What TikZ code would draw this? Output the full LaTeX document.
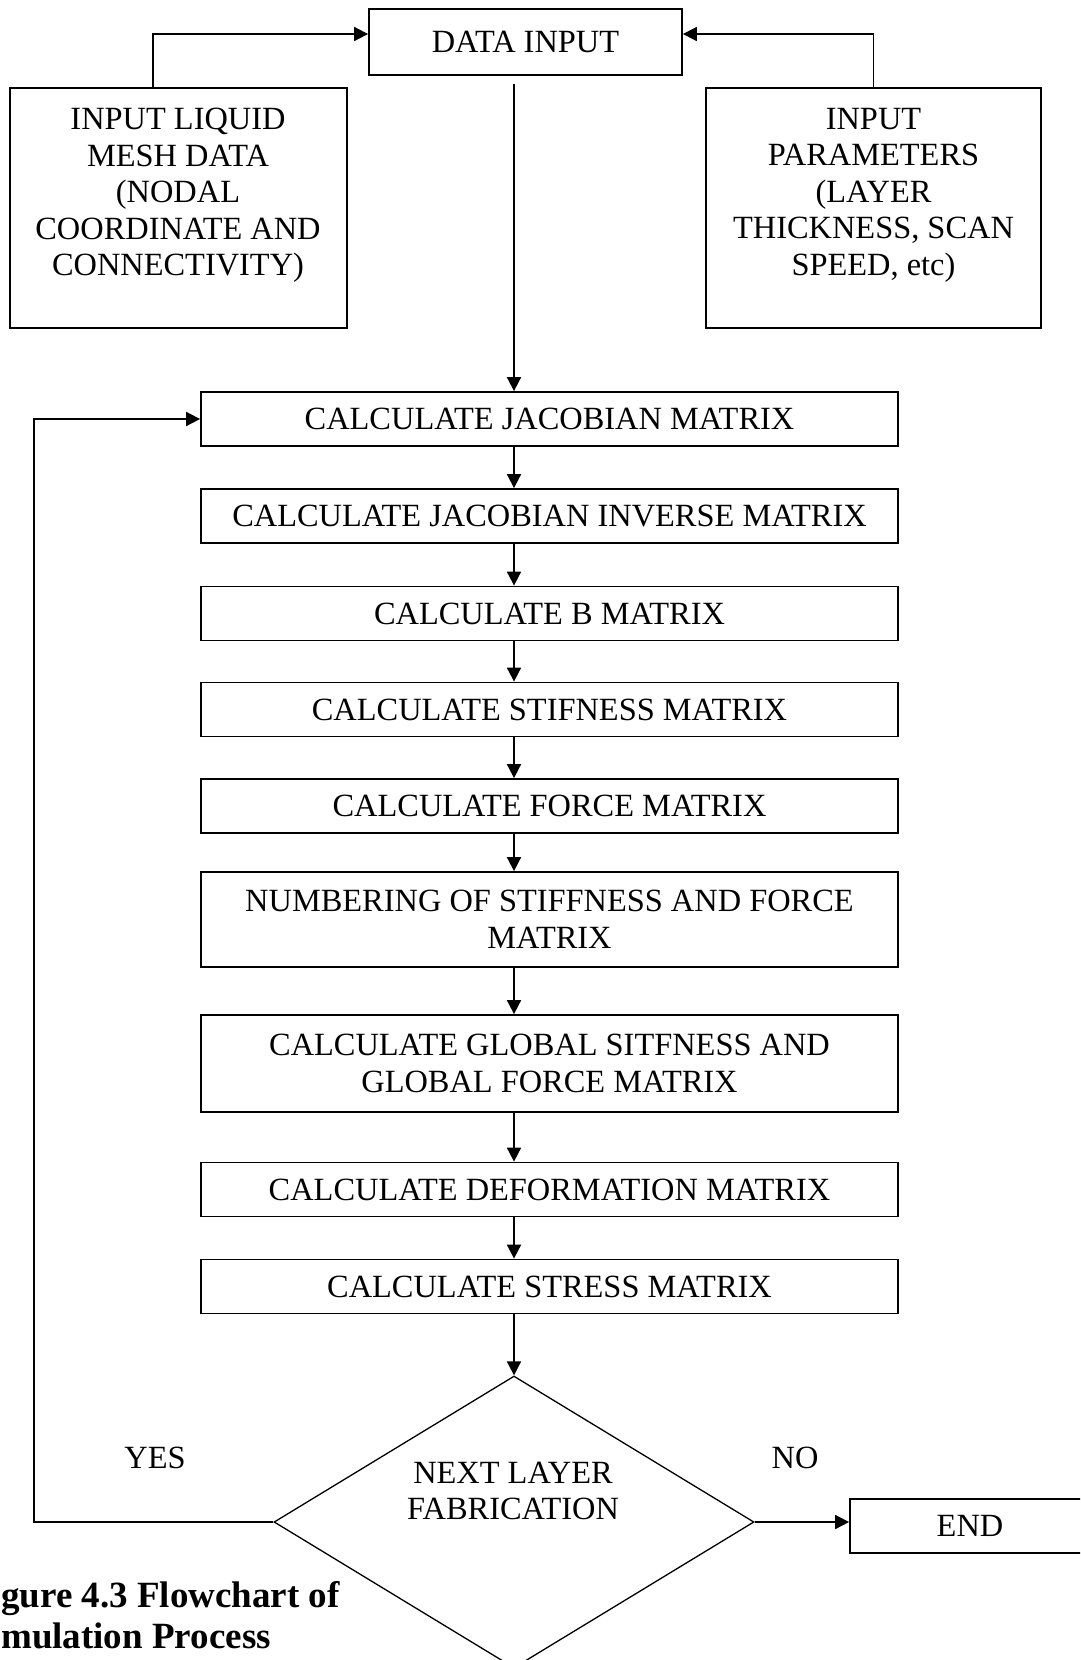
\documentclass[tikz,border=0pt]{standalone}
\usepackage{fontspec}
\setmainfont{Liberation Serif}
\usetikzlibrary{arrows.meta,shapes.geometric}
\tikzset{
  stage/.style={draw, line width=1.8pt, inner sep=0pt, minimum width=697pt,
    minimum height=54pt, align=center},
  sidebox/.style={draw, line width=1.8pt, inner sep=0pt, minimum width=337pt,
    minimum height=240pt},
  txt/.style={align=center, inner sep=0pt},
  flow/.style={line width=1.8pt, -{Triangle[length=14pt,width=14pt]}},
}
\begin{document}
\begin{tikzpicture}[x=1pt, y=-1pt, font=\fontsize{32.4}{36.5}\selectfont]
  \path[use as bounding box, clip] (0,0) rectangle (1080,1660);

  % helper columns
  \coordinate (spine) at (514,0);
  \coordinate (loopx) at (34,0);

  % input stage
  \node[draw, line width=1.8pt, inner sep=0pt, minimum width=313pt,
        minimum height=66pt] (din) at (525.5,42) {DATA INPUT};

  \node[sidebox] (liq) at (178.5,208) {};
  \node[txt, anchor=north] (liqtxt) at (178,108)
    {INPUT LIQUID\\MESH DATA\\(NODAL\\COORDINATE AND\\CONNECTIVITY)};

  \node[sidebox, minimum width=335pt] (par) at (873.5,208) {};
  \node[txt, anchor=north] (partxt) at (873.5,108)
    {INPUT\\PARAMETERS\\(LAYER\\THICKNESS, SCAN\\SPEED, etc)};

  % processing stages
  \node[stage] (jac)    at (549.5,419)    {CALCULATE JACOBIAN MATRIX};
  \node[stage] (inv)    at (549.5,516)    {CALCULATE JACOBIAN INVERSE MATRIX};
  \node[stage] (bmat)   at (549.5,613.5)  {CALCULATE B MATRIX};
  \node[stage] (stif)   at (549.5,709.5)  {CALCULATE STIFNESS MATRIX};
  \node[stage] (force)  at (549.5,806)    {CALCULATE FORCE MATRIX};
  \node[stage, minimum height=95pt] (numb) at (549.5,919.5)
    {NUMBERING OF STIFFNESS AND FORCE\\MATRIX};
  \node[stage, minimum height=97pt] (glob) at (549.5,1063.5)
    {CALCULATE GLOBAL SITFNESS AND\\GLOBAL FORCE MATRIX};
  \node[stage] (deform) at (549.5,1189.5) {CALCULATE DEFORMATION MATRIX};
  \node[stage] (stress) at (549.5,1286.5) {CALCULATE STRESS MATRIX};

  % decision and end
  \node[draw, diamond, line width=1.3pt, inner sep=0pt, minimum width=480pt,
        minimum height=292pt] (dec) at (514,1522) {};
  \node[txt] (dectxt) at (513,1491) {NEXT LAYER\\FABRICATION};
  \node[draw, line width=1.8pt, inner sep=0pt, minimum width=240pt,
        minimum height=54pt] (endb) at (970,1526) {END};

  \node[txt] (yes) at (155,1458) {YES};
  \node[txt] (no)  at (795,1458) {NO};

  % connectors
  \draw[flow] ([xshift=-25.5pt]liq.north) |- ([yshift=8pt]din.west);
  \draw[flow] (par.north) |- ([yshift=8pt]din.east);
  \draw[flow, shorten <=8pt] (din.south -| spine) -- (jac.north -| spine);
  \draw[flow] (jac.south -| spine) -- (inv.north -| spine);
  \draw[flow] (inv.south -| spine) -- (bmat.north -| spine);
  \draw[flow] (bmat.south -| spine) -- (stif.north -| spine);
  \draw[flow] (stif.south -| spine) -- (force.north -| spine);
  \draw[flow] (force.south -| spine) -- (numb.north -| spine);
  \draw[flow] (numb.south -| spine) -- (glob.north -| spine);
  \draw[flow] (glob.south -| spine) -- (deform.north -| spine);
  \draw[flow] (deform.south -| spine) -- (stress.north -| spine);
  \draw[flow] (stress.south -| spine) -- (dec.north);
  \draw[flow] (dec.east) -- (dec.east -| endb.west);
  \draw[flow] (dec.west) -- (dec.west -| loopx) -- (jac.west -| loopx) -- (jac.west);

  % caption
  \node[anchor=north west, align=left, inner sep=0pt,
        font=\bfseries\fontsize{37}{41}\selectfont] (cap) at (1,1581)
    {gure 4.3 Flowchart of\\mulation Process};
\end{tikzpicture}
\end{document}
